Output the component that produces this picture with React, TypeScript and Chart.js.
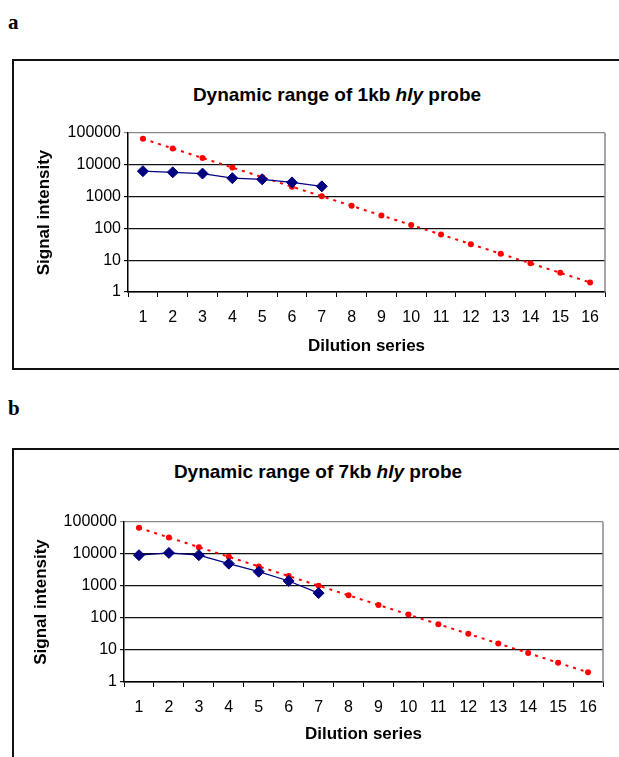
import React, { useEffect, useRef } from "react";
import { Chart, registerables } from "chart.js";

Chart.register(...registerables);

const dilutionLabels = ["1", "2", "3", "4", "5", "6", "7", "8", "9", "10", "11", "12", "13", "14", "15", "16"];
const referenceDilution = [65536, 32768, 16384, 8192, 4096, 2048, 1024, 512, 256, 128, 64, 32, 16, 8, 4, 2];
const probe1kbSignal = [6300, 5800, 5300, 3800, 3500, 2800, 2100];
const probe7kbSignal = [9200, 10800, 9200, 5000, 2800, 1430, 600];
const yTickValues = [1, 10, 100, 1000, 10000, 100000];

const SANS = "'Liberation Sans', Arial, sans-serif";

type ChartProps = {
  signal: number[];
  left: number;
  top: number;
  width: number;
  height: number;
  plotLeft: number;
  plotTop: number;
  plotRight: number;
  plotBottom: number;
  yTitlePad: number;
  xTitlePad: number;
};

const frameRight = {
  id: "frameRight",
  afterDatasetsDraw(chart: any) {
    const { ctx, chartArea } = chart;
    ctx.save();
    ctx.strokeStyle = "#888";
    ctx.lineWidth = 1.5;
    ctx.beginPath();
    ctx.moveTo(chartArea.right, chartArea.top);
    ctx.lineTo(chartArea.right, chartArea.bottom);
    ctx.stroke();
    ctx.restore();
  },
};

function DilutionChart(p: ChartProps) {
  const ref = useRef<HTMLCanvasElement | null>(null);
  useEffect(() => {
    if (!ref.current) return;
    const yAxisWidth = p.plotLeft - p.left;
    const xAxisHeight = p.top + p.height - p.plotBottom;
    const chart = new Chart(ref.current, {
      type: "line",
      data: {
        labels: dilutionLabels,
        datasets: [
          {
            data: p.signal,
            borderColor: "#000080",
            backgroundColor: "#000080",
            borderWidth: 1.2,
            pointStyle: "rectRot",
            pointRadius: 5.5,
            pointBorderWidth: 1,
            tension: 0,
          },
          {
            data: referenceDilution,
            borderColor: "#ff0000",
            backgroundColor: "#ff0000",
            borderWidth: 2,
            borderDash: [3, 5],
            pointStyle: "circle",
            pointRadius: 3,
            pointBorderWidth: 0,
            tension: 0,
          },
        ],
      },
      options: {
        animation: false,
        responsive: true,
        maintainAspectRatio: false,
        layout: {
          padding: {
            top: p.plotTop - p.top,
            right: p.left + p.width - p.plotRight,
            left: 0,
            bottom: 0,
          },
        },
        plugins: {
          legend: { display: false },
          title: { display: false },
          tooltip: { enabled: false },
        },
        scales: {
          x: {
            type: "category",
            offset: true,
            grid: {
              offset: true,
              drawOnChartArea: false,
              drawTicks: true,
              tickLength: 5,
              color: "#000",
              lineWidth: 1,
            },
            border: { color: "#000", width: 1.5 },
            ticks: {
              color: "#000",
              font: { family: SANS, size: 16 },
              padding: 11,
              maxRotation: 0,
              autoSkip: false,
            },
            title: {
              display: true,
              text: "Dilution series",
              color: "#000",
              font: { family: SANS, size: 17, weight: "bold" },
              padding: { top: 0, bottom: p.xTitlePad },
            },
            afterFit: (s: any) => {
              s.height = xAxisHeight;
            },
          },
          y: {
            type: "logarithmic",
            min: 1,
            max: 100000,
            afterBuildTicks: (s: any) => {
              s.ticks = yTickValues.map((v) => ({ value: v }));
            },
            grid: {
              color: (c: any) => (c.tick && c.tick.value === 100000 ? "#888" : "#111"),
              lineWidth: 1.2,
              tickLength: 4,
              drawTicks: true,
            },
            border: { color: "#000", width: 1.5 },
            ticks: {
              color: "#000",
              font: { family: SANS, size: 16 },
              padding: 3,
              callback: (v: any) => String(v),
            },
            title: {
              display: true,
              text: "Signal intensity",
              color: "#000",
              font: { family: SANS, size: 17, weight: "bold" },
              padding: { top: p.yTitlePad, bottom: 0 },
            },
            afterFit: (s: any) => {
              s.width = yAxisWidth;
            },
          },
        },
      } as any,
      plugins: [frameRight],
    });
    return () => chart.destroy();
  }, []);
  return (
    <div
      style={{
        position: "absolute",
        left: p.left,
        top: p.top,
        width: p.width,
        height: p.height,
      }}
    >
      <canvas ref={ref} />
    </div>
  );
}

const panelLabel: React.CSSProperties = {
  position: "absolute",
  fontFamily: "'Liberation Serif', 'Times New Roman', serif",
  fontWeight: "bold",
  fontSize: 21,
  lineHeight: "24px",
  color: "#000",
};

const titleStyle: React.CSSProperties = {
  position: "absolute",
  width: 400,
  textAlign: "center",
  fontFamily: SANS,
  fontWeight: "bold",
  fontSize: 19,
  lineHeight: "22px",
  color: "#000",
  whiteSpace: "nowrap",
};

export default function App() {
  return (
    <div
      style={{
        position: "absolute",
        left: 0,
        top: 0,
        width: 619,
        height: 757,
        overflow: "hidden",
        background: "#fff",
      }}
    >
      <div style={{ ...panelLabel, left: 8, top: 10 }}>a</div>
      <div
        style={{
          position: "absolute",
          left: 12,
          top: 59,
          width: 700,
          height: 311,
          boxSizing: "border-box",
          border: "2px solid #111",
        }}
      />
      <div style={{ ...titleStyle, left: 337 - 200, top: 84 }}>
        Dynamic range of 1kb <i>hly</i> probe
      </div>
      <DilutionChart
        signal={probe1kbSignal}
        left={14}
        top={61}
        width={600}
        height={306}
        plotLeft={128}
        plotTop={133}
        plotRight={605}
        plotBottom={292}
        yTitlePad={20}
        xTitlePad={10}
      />

      <div style={{ ...panelLabel, left: 8, top: 396 }}>b</div>
      <div
        style={{
          position: "absolute",
          left: 12,
          top: 448,
          width: 700,
          height: 400,
          boxSizing: "border-box",
          border: "2px solid #111",
        }}
      />
      <div style={{ ...titleStyle, left: 318 - 200, top: 461 }}>
        Dynamic range of 7kb <i>hly</i> probe
      </div>
      <DilutionChart
        signal={probe7kbSignal}
        left={15}
        top={451}
        width={600}
        height={306}
        plotLeft={124}
        plotTop={522}
        plotRight={603}
        plotBottom={682}
        yTitlePad={16}
        xTitlePad={12}
      />
    </div>
  );
}
